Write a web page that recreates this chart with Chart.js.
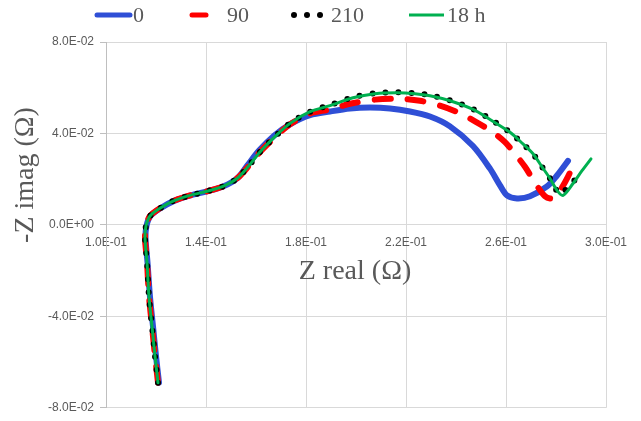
<!DOCTYPE html>
<html>
<head>
<meta charset="utf-8">
<script src="https://cdn.jsdelivr.net/npm/chart.js@4.4.0/dist/chart.umd.min.js"></script>
<style>
  html, body { margin: 0; padding: 0; background: #fff; }
  #wrap { width: 641px; height: 421px; position: relative; }
</style>
</head>
<body>
<div id="wrap"><canvas id="nyquistChart"></canvas></div>
<script>
// series names as in the legend
const seriesLabels = ['0', '90', '210', '18 h'];

// Z real / -Z imag (Ohm)
const zReal0 = [0.1212, 0.1200, 0.1188, 0.1176, 0.1166, 0.1158, 0.1162, 0.1178, 0.1218, 0.1270, 0.1338, 0.1404, 0.1468, 0.1524, 0.1564, 0.1612, 0.1672, 0.1736, 0.1816,
                0.1896, 0.1976, 0.2056, 0.2136, 0.2216, 0.2296, 0.2376, 0.2468, 0.2536, 0.2576, 0.2604, 0.2644, 0.2696, 0.2764, 0.2804, 0.2848];
const zImag0 = [-0.0690, -0.0574, -0.0444, -0.0315, -0.0164, -0.0056, -0.0004, 0.0039, 0.0073, 0.0104, 0.0129, 0.0147, 0.0168, 0.0203, 0.0258, 0.0325, 0.0390, 0.0440, 0.0480,
                0.0496, 0.0509, 0.0513, 0.0509, 0.0496, 0.0474, 0.0431, 0.0345, 0.0246, 0.0173, 0.0129, 0.0116, 0.0125, 0.0168, 0.0216, 0.0280];

const zReal90 = [0.1208, 0.1196, 0.1184, 0.1172, 0.1164, 0.1156, 0.1160, 0.1176, 0.1216, 0.1268, 0.1336, 0.1404, 0.1468, 0.1524, 0.1568, 0.1616, 0.1676, 0.1736, 0.1816,
                 0.1896, 0.1976, 0.2076, 0.2176, 0.2256, 0.2336, 0.2408, 0.2476, 0.2548, 0.2596, 0.2636, 0.2676, 0.2716, 0.2756, 0.2784, 0.2816, 0.2848, 0.2880];
const zImag90 = [-0.0690, -0.0574, -0.0444, -0.0315, -0.0164, -0.0056, -0.0004, 0.0039, 0.0073, 0.0104, 0.0129, 0.0147, 0.0168, 0.0203, 0.0254, 0.0319, 0.0384, 0.0440, 0.0487,
                 0.0505, 0.0530, 0.0548, 0.0552, 0.0543, 0.0522, 0.0492, 0.0453, 0.0405, 0.0362, 0.0311, 0.0254, 0.0185, 0.0125, 0.0116, 0.0151, 0.0211, 0.0289];

const zReal210 = [0.1208, 0.1196, 0.1184, 0.1172, 0.1164, 0.1156, 0.1160, 0.1176, 0.1216, 0.1268, 0.1336, 0.1404, 0.1468, 0.1524, 0.1568, 0.1616, 0.1676, 0.1736, 0.1816,
                  0.1896, 0.1988, 0.2076, 0.2164, 0.2236, 0.2296, 0.2376, 0.2468, 0.2536, 0.2616, 0.2668, 0.2708, 0.2744, 0.2776, 0.2800, 0.2816, 0.2848, 0.2888];
const zImag210 = [-0.0690, -0.0574, -0.0444, -0.0315, -0.0164, -0.0056, -0.0004, 0.0039, 0.0073, 0.0104, 0.0129, 0.0147, 0.0168, 0.0203, 0.0254, 0.0319, 0.0386, 0.0444, 0.0495,
                  0.0524, 0.0558, 0.0576, 0.0580, 0.0576, 0.0567, 0.0545, 0.0507, 0.0463, 0.0405, 0.0354, 0.0311, 0.0254, 0.0203, 0.0155, 0.0134, 0.0164, 0.0212];

const zReal18h = [0.1208, 0.1196, 0.1184, 0.1172, 0.1164, 0.1156, 0.1160, 0.1176, 0.1216, 0.1268, 0.1336, 0.1404, 0.1468, 0.1524, 0.1568, 0.1616, 0.1676, 0.1736, 0.1816,
                  0.1896, 0.1988, 0.2076, 0.2164, 0.2236, 0.2296, 0.2376, 0.2468, 0.2536, 0.2616, 0.2668, 0.2708, 0.2744, 0.2776, 0.2804, 0.2828, 0.2868, 0.2904, 0.2940];
const zImag18h = [-0.0690, -0.0574, -0.0444, -0.0315, -0.0164, -0.0056, -0.0004, 0.0039, 0.0073, 0.0104, 0.0129, 0.0147, 0.0168, 0.0203, 0.0254, 0.0319, 0.0386, 0.0444, 0.0495,
                  0.0522, 0.0556, 0.0574, 0.0578, 0.0574, 0.0565, 0.0543, 0.0505, 0.0461, 0.0405, 0.0354, 0.0311, 0.0254, 0.0203, 0.0151, 0.0129, 0.0181, 0.0237, 0.0289];

// axis ticks
const xTicks = [0.10, 0.14, 0.18, 0.22, 0.26, 0.30];
const yTicks = [-0.08, -0.04, 0, 0.04, 0.08];

function toPoints(xs, ys) {
    return xs.map((x, i) => ({ x: x, y: ys[i] }));
}

// Excel style "8.0E-02"
function sciLabel(v) {
    const parts = Number(v).toExponential(1).split('e');
    const exp = parseInt(parts[1], 10);
    const sign = exp < 0 ? '-' : '+';
    return parts[0] + 'E' + sign + String(Math.abs(exp)).padStart(2, '0');
}

// legend + axis titles, drawn on top of the chart
const decorPlugin = {
    id: 'decor',
    afterDraw(chart) {
        const ctx = chart.ctx;
        ctx.save();
        ctx.fillStyle = '#595959';
        ctx.textBaseline = 'middle';

        // axis titles
        ctx.font = '28px "Liberation Serif", "Times New Roman", serif';
        ctx.textAlign = 'center';
        ctx.fillText('Z real (Ω)', 355, 272);
        ctx.save();
        ctx.translate(26, 175);
        ctx.rotate(-Math.PI / 2);
        ctx.fillText('-Z imag (Ω)', 0, 0);
        ctx.restore();

        // legend samples
        const y = 15;
        ctx.lineCap = 'round';
        ctx.strokeStyle = '#2f4fd6';
        ctx.lineWidth = 5;
        ctx.beginPath(); ctx.moveTo(97, y); ctx.lineTo(130, y); ctx.stroke();
        ctx.strokeStyle = '#ff0000';
        ctx.beginPath(); ctx.moveTo(192, y); ctx.lineTo(206, y); ctx.stroke();
        ctx.fillStyle = '#000';
        [294, 307, 320].forEach(cx => {
            ctx.beginPath(); ctx.arc(cx, y, 3, 0, Math.PI * 2); ctx.fill();
        });
        ctx.lineCap = 'butt';
        ctx.strokeStyle = '#00b050';
        ctx.lineWidth = 3;
        ctx.beginPath(); ctx.moveTo(409, y); ctx.lineTo(444, y); ctx.stroke();

        ctx.fillStyle = '#595959';
        ctx.font = '22px "Liberation Serif", "Times New Roman", serif';
        ctx.textAlign = 'left';
        ctx.fillText(seriesLabels[0], 133, y + 1);
        ctx.fillText(seriesLabels[1], 227, y + 1);
        ctx.fillText(seriesLabels[2], 331, y + 1);
        ctx.fillText(seriesLabels[3], 447, y + 1);
        ctx.restore();
    }
};

const ctx = document.getElementById('nyquistChart');
new Chart(ctx, {
    type: 'scatter',
    data: {
        datasets: [
            {
                label: seriesLabels[0],
                data: toPoints(zReal0, zImag0),
                borderColor: '#2f4fd6',
                borderWidth: 6,
                borderCapStyle: 'round',
                borderJoinStyle: 'round',
                order: 4
            },
            {
                label: seriesLabels[1],
                data: toPoints(zReal90, zImag90),
                borderColor: '#ff0000',
                borderWidth: 6,
                borderDash: [16, 17],
                borderCapStyle: 'round',
                borderJoinStyle: 'round',
                order: 3
            },
            {
                label: seriesLabels[2],
                data: toPoints(zReal210, zImag210),
                borderColor: '#000000',
                borderWidth: 6,
                borderDash: [0, 13],
                borderCapStyle: 'round',
                borderJoinStyle: 'round',
                order: 2
            },
            {
                label: seriesLabels[3],
                data: toPoints(zReal18h, zImag18h),
                borderColor: '#00b050',
                borderWidth: 3,
                borderCapStyle: 'round',
                borderJoinStyle: 'round',
                order: 1
            }
        ]
    },
    options: {
        responsive: true,
        maintainAspectRatio: false,
        animation: false,
        showLine: true,
        elements: {
            point: { radius: 0, hoverRadius: 0 },
            line: { tension: 0.3, fill: false }
        },
        layout: {
            padding: { top: 42, right: 35, bottom: 8, left: 0 }
        },
        plugins: {
            legend: { display: false },
            tooltip: { enabled: false }
        },
        scales: {
            x: {
                type: 'linear',
                position: { y: 0 },
                min: 0.10,
                max: 0.30,
                afterBuildTicks: axis => { axis.ticks = xTicks.map(v => ({ value: v })); },
                grid: { color: '#d9d9d9', drawTicks: false },
                border: { color: '#d9d9d9' },
                ticks: {
                    color: '#595959',
                    padding: 11,
                    maxRotation: 0,
                    font: { family: '"Liberation Sans", Arial, sans-serif', size: 12 },
                    callback: v => sciLabel(v)
                }
            },
            y: {
                type: 'linear',
                position: 'left',
                min: -0.08,
                max: 0.08,
                afterBuildTicks: axis => { axis.ticks = yTicks.map(v => ({ value: v })); },
                afterFit: axis => { axis.width = 106; },
                grid: { color: '#d9d9d9', tickLength: 6, tickColor: '#bfbfbf' },
                border: { color: '#bfbfbf' },
                ticks: {
                    color: '#595959',
                    padding: 6,
                    font: { family: '"Liberation Sans", Arial, sans-serif', size: 12 },
                    callback: v => sciLabel(v)
                }
            }
        }
    },
    plugins: [decorPlugin]
});
</script>
</body>
</html>
